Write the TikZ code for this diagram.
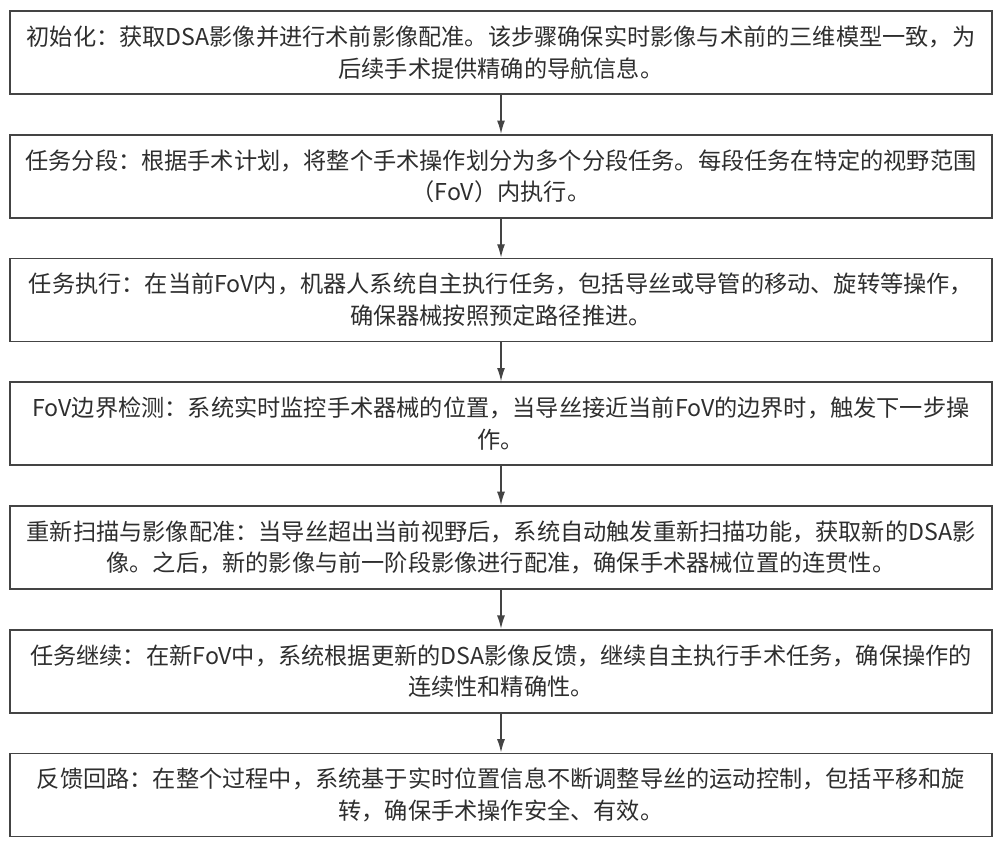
\documentclass[tikz,border=0pt]{standalone}
\usepackage{fontspec}
\newfontfamily\cjkfont{Noto Sans CJK SC}
\usetikzlibrary{positioning,arrows.meta}
\definecolor{boxline}{HTML}{444444}
\definecolor{boxtext}{HTML}{2E2E2E}
\tikzset{
  stepbox/.style={draw=boxline,line width=1.3pt,minimum width=736.5pt,minimum height=62.25pt,
    text width=728pt,align=center,inner sep=0pt,text=boxtext,
    font=\cjkfont\fontsize{17.4pt}{23.8pt}\selectfont},
  flow/.style={draw=boxline,line width=1pt,-{Latex[length=10pt,width=6pt]}}
}
\begin{document}
\begin{tikzpicture}[x=0.75pt,y=0.75pt,node distance=29.25pt]
  \useasboundingbox (0,0) rectangle (1000,-840);

  \node[stepbox] (init) at (501,-52.5) {初始化：获取DSA影像并进行术前影像配准。该步骤确保实时影像与术前的三维模型一致，为\\后续手术提供精确的导航信息。};
  \node[stepbox,below=of init] (split) {任务分段：根据手术计划，将整个手术操作划分为多个分段任务。每段任务在特定的视野范围\\（FoV）内执行。};
  \node[stepbox,below=of split] (exec) {任务执行：在当前FoV内，机器人系统自主执行任务，包括导丝或导管的移动、旋转等操作，\\确保器械按照预定路径推进。};
  \node[stepbox,below=of exec] (fov) {FoV边界检测：系统实时监控手术器械的位置，当导丝接近当前FoV的边界时，触发下一步操\\作。};
  \node[stepbox,below=of fov] (rescan) {重新扫描与影像配准：当导丝超出当前视野后，系统自动触发重新扫描功能，获取新的DSA影\\像。之后，新的影像与前一阶段影像进行配准，确保手术器械位置的连贯性。};
  \node[stepbox,below=of rescan] (cont) {任务继续：在新FoV中，系统根据更新的DSA影像反馈，继续自主执行手术任务，确保操作的\\连续性和精确性。};
  \node[stepbox,below=of cont] (loop) {反馈回路：在整个过程中，系统基于实时位置信息不断调整导丝的运动控制，包括平移和旋\\转，确保手术操作安全、有效。};

  % arrows between the steps
  \draw[flow] (init) -- (split);
  \draw[flow] (split) -- (exec);
  \draw[flow] (exec) -- (fov);
  \draw[flow] (fov) -- (rescan);
  \draw[flow] (rescan) -- (cont);
  \draw[flow] (cont) -- (loop);
\end{tikzpicture}
\end{document}
